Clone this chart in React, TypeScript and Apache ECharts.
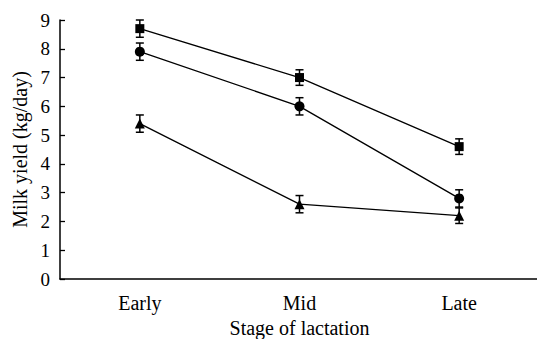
import React, { useEffect, useRef } from "react";
import * as echarts from "echarts";

const categories = ["Early", "Mid", "Late"];
const squareValues = [8.7, 7.0, 4.6];
const squareErrors = [0.3, 0.27, 0.27];
const circleValues = [7.9, 6.0, 2.8];
const circleErrors = [0.3, 0.3, 0.3];
const triangleValues = [5.4, 2.6, 2.2];
const triangleErrors = [0.3, 0.3, 0.27];
const yTicks = [0, 1, 2, 3, 4, 5, 6, 7, 8, 9];

const FONT = "'Liberation Serif', 'DejaVu Serif', serif";

function errorSeries(values: number[], errors: number[]) {
  return {
    type: "custom",
    data: values.map((v, i) => [i, v - errors[i], v + errors[i]]),
    z: 1,
    renderItem: (params: any, api: any) => {
      const x = api.value(0);
      const lo = api.coord([x, api.value(1)]);
      const hi = api.coord([x, api.value(2)]);
      const hw = 4;
      const style = { stroke: "#000", lineWidth: 1.5 };
      return {
        type: "group",
        children: [
          { type: "line", shape: { x1: lo[0], y1: lo[1], x2: hi[0], y2: hi[1] }, style },
          { type: "line", shape: { x1: lo[0] - hw, y1: lo[1], x2: lo[0] + hw, y2: lo[1] }, style },
          { type: "line", shape: { x1: hi[0] - hw, y1: hi[1], x2: hi[0] + hw, y2: hi[1] }, style },
        ],
      };
    },
  };
}

function lineSeries(values: number[], symbol: string, size: number) {
  return {
    type: "line",
    data: values,
    symbol,
    symbolSize: size,
    z: 2,
    lineStyle: { color: "#000", width: 1.3 },
    itemStyle: { color: "#000", borderWidth: 0 },
  };
}

export default function App() {
  const ref = useRef<HTMLDivElement>(null);
  useEffect(() => {
    document.body.style.margin = "0";
    const chart = echarts.init(ref.current!, null, { renderer: "svg" });
    chart.setOption({
      animation: false,
      backgroundColor: "#fff",
      grid: { left: 60, right: -2, top: 20, bottom: 60, containLabel: false, outerBoundsMode: "none" },
      xAxis: {
        type: "category",
        data: categories,
        boundaryGap: true,
        name: "Stage of lactation",
        nameLocation: "middle",
        nameGap: 38,
        nameTextStyle: { fontFamily: FONT, fontSize: 20, color: "#000" },
        axisLine: { lineStyle: { color: "#000", width: 1.5 } },
        axisTick: { show: false },
        axisLabel: { fontFamily: FONT, fontSize: 20, color: "#000", margin: 14 },
        splitLine: { show: false },
      },
      yAxis: {
        type: "value",
        min: 0,
        max: 9,
        interval: 1,
        name: "Milk yield (kg/day)",
        nameLocation: "middle",
        nameGap: 30,
        nameTextStyle: { fontFamily: FONT, fontSize: 20, color: "#000" },
        axisLine: { show: true, lineStyle: { color: "#000", width: 1.5 } },
        axisTick: { show: true, inside: true, length: 5, lineStyle: { color: "#000", width: 1.3 } },
        axisLabel: {
          fontFamily: FONT,
          fontSize: 19,
          color: "#000",
          margin: 10,
          formatter: (v: number) => (yTicks.includes(v) ? String(v) : ""),
        },
        splitLine: { show: false },
      },
      series: [
        errorSeries(squareValues, squareErrors),
        errorSeries(circleValues, circleErrors),
        errorSeries(triangleValues, triangleErrors),
        lineSeries(squareValues, "rect", 9),
        lineSeries(circleValues, "circle", 10),
        lineSeries(triangleValues, "triangle", 10),
      ],
    });
    return () => chart.dispose();
  }, []);
  return <div ref={ref} style={{ width: 537, height: 339 }} />;
}
